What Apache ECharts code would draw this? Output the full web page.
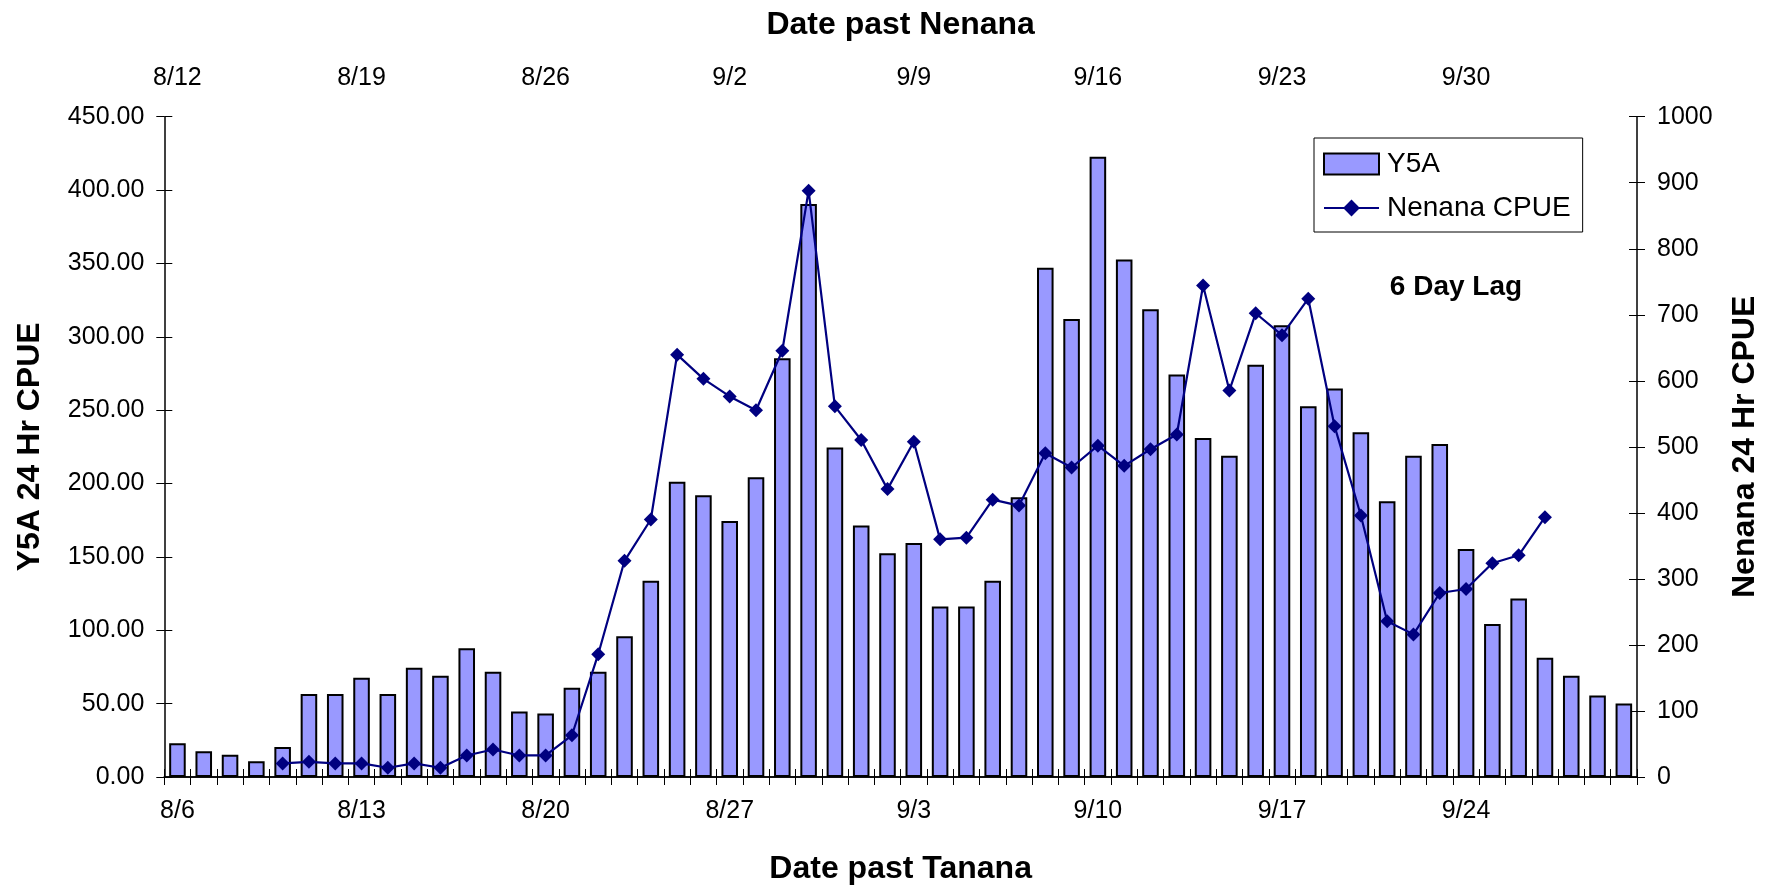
<!DOCTYPE html>
<html>
<head>
<meta charset="utf-8">
<script src="https://cdn.jsdelivr.net/npm/echarts@6/dist/echarts.min.js"></script>
<style>
html,body{margin:0;padding:0;background:#fff;}
#chart{width:1769px;height:890px;}
</style>
</head>
<body>
<div id="chart"></div>
<script>
// Date past Tanana (bottom axis categories)
const tananaDates = ['8/6','8/7','8/8','8/9','8/10','8/11','8/12','8/13','8/14','8/15','8/16','8/17','8/18','8/19','8/20','8/21','8/22','8/23','8/24','8/25','8/26','8/27','8/28','8/29','8/30','8/31','9/1','9/2','9/3','9/4','9/5','9/6','9/7','9/8','9/9','9/10','9/11','9/12','9/13','9/14','9/15','9/16','9/17','9/18','9/19','9/20','9/21','9/22','9/23','9/24','9/25','9/26','9/27','9/28','9/29','9/30'];
// Date past Nenana (top axis, 6 day lag)
const nenanaDates = ['8/12','8/13','8/14','8/15','8/16','8/17','8/18','8/19','8/20','8/21','8/22','8/23','8/24','8/25','8/26','8/27','8/28','8/29','8/30','8/31','9/1','9/2','9/3','9/4','9/5','9/6','9/7','9/8','9/9','9/10','9/11','9/12','9/13','9/14','9/15','9/16','9/17','9/18','9/19','9/20','9/21','9/22','9/23','9/24','9/25','9/26','9/27','9/28','9/29','9/30','10/1','10/2','10/3','10/4','10/5','10/6'];
// Y5A 24 Hr CPUE (bars, left axis)
const y5a = [23.0,17.6,15.1,10.8,20.5,56.6,56.6,67.7,56.6,74.4,69.0,87.8,71.7,44.7,43.3,60.9,71.7,95.9,133.8,201.2,192.0,174.4,204.2,285.4,390.5,224.5,171.4,152.5,159.5,116.2,116.2,133.8,190.6,347.1,312.2,422.7,352.6,318.7,274.3,231.0,219.0,281.0,307.9,252.6,264.8,235.0,187.9,219.0,226.9,155.4,104.2,121.6,81.2,69.0,55.5,50.1];
// Nenana 24 Hr CPUE (line, right axis)
const nenana = [null,null,null,null,20.6,23,20.6,20.6,14,20.6,14,32.6,41.6,32.6,32.6,63.2,186,327.4,390,639.6,603,576.4,555.4,645.6,888,561.4,510.3,436,507.8,359.9,362.4,420,411,490.2,468.7,501.8,471.2,496.3,518.8,744.4,585.5,702.3,669.2,724.4,531.3,396,236,216,278.7,284.7,323.8,335.8,393.5,null,null,null];
const leftTicks = {min: 0, max: 450, interval: 50};
const rightTicks = {min: 0, max: 1000, interval: 100};

const FONT = "'Liberation Sans', Arial, sans-serif";
const black = '#000';
const lineCol = '#000080';
const axisLine = {show: true, lineStyle: {color: black, width: 1.5}};
const tickStyle = {color: black, width: 1};
const labelStyle = {fontFamily: FONT, fontSize: 25, color: black};
const nameStyle = {fontFamily: FONT, fontSize: 32, fontWeight: 'bold', color: black};

const chart = echarts.init(document.getElementById('chart'), null, {renderer: 'canvas'});
chart.setOption({
  animation: false,
  backgroundColor: '#fff',
  grid: {left: 164.3, right: 124, top: 116.7, bottom: 109, containLabel: false},
  legend: {
    orient: 'vertical', left: 1314, top: 138,
    padding: [12, 12, 10, 9],
    borderColor: black, borderWidth: 1,
    itemWidth: 55, itemHeight: 21, itemGap: 16,
    textStyle: {fontFamily: FONT, fontSize: 28, color: black, lineHeight: 28, padding: [0, 0, 0, 3]},
    data: [{name: 'Y5A', icon: 'rect'}, {name: 'Nenana CPUE'}]
  },
  graphic: [{
    type: 'text', x: 1456, y: 287,
    style: {text: '6 Day Lag', font: 'bold 28px ' + FONT, fill: black, textAlign: 'center', textVerticalAlign: 'middle'}
  }],
  xAxis: [
    {type: 'category', data: tananaDates, position: 'bottom', boundaryGap: true,
     axisLine: axisLine, axisTick: {show: true, interval: 0, length: 8, lineStyle: tickStyle},
     axisLabel: Object.assign({interval: 6, margin: 22}, labelStyle),
     splitLine: {show: false},
     name: 'Date past Tanana', nameLocation: 'middle', nameGap: 76, nameTextStyle: nameStyle},
    {type: 'category', data: tananaDates, position: 'bottom', boundaryGap: true, z: 10,
     axisLine: {show: false}, axisTick: {show: true, inside: true, interval: 0, length: 8, lineStyle: tickStyle},
     axisLabel: {show: false}, splitLine: {show: false}},
    {type: 'category', data: nenanaDates, position: 'top', boundaryGap: true,
     axisLine: axisLine, axisTick: {show: true, interval: 0, length: 8, lineStyle: tickStyle},
     axisLabel: Object.assign({interval: 6, margin: 26}, labelStyle),
     splitLine: {show: false},
     name: 'Date past Nenana', nameLocation: 'middle', nameGap: 76, nameTextStyle: nameStyle},
    {type: 'category', data: nenanaDates, position: 'top', boundaryGap: true,
     axisLine: {show: false}, axisTick: {show: true, inside: true, interval: 0, length: 8, lineStyle: tickStyle},
     axisLabel: {show: false}, splitLine: {show: false}}
  ],
  yAxis: [
    {type: 'value', position: 'left', min: leftTicks.min, max: leftTicks.max, interval: leftTicks.interval,
     axisLine: axisLine, axisTick: {show: true, length: 8, lineStyle: tickStyle},
     axisLabel: Object.assign({margin: 20, formatter: v => v.toFixed(2)}, labelStyle),
     splitLine: {show: false},
     name: 'Y5A 24 Hr CPUE', nameLocation: 'middle', nameRotate: 90, nameGap: 118, nameTextStyle: nameStyle},
    {type: 'value', position: 'right', min: rightTicks.min, max: rightTicks.max, interval: rightTicks.interval,
     axisLine: axisLine, axisTick: {show: true, length: 8, lineStyle: tickStyle},
     axisLabel: Object.assign({margin: 20, formatter: v => String(v)}, labelStyle),
     splitLine: {show: false},
     name: 'Nenana 24 Hr CPUE', nameLocation: 'middle', nameRotate: 90, nameGap: 92, nameTextStyle: nameStyle},
    {type: 'value', position: 'left', min: leftTicks.min, max: leftTicks.max, interval: leftTicks.interval,
     axisLine: {show: false}, axisTick: {show: true, inside: true, length: 8, lineStyle: tickStyle},
     axisLabel: {show: false}, splitLine: {show: false}},
    {type: 'value', position: 'right', min: rightTicks.min, max: rightTicks.max, interval: rightTicks.interval,
     axisLine: {show: false}, axisTick: {show: true, inside: true, length: 8, lineStyle: tickStyle},
     axisLabel: {show: false}, splitLine: {show: false}}
  ],
  series: [
    {name: 'Y5A', type: 'bar', xAxisIndex: 0, yAxisIndex: 0, data: y5a,
     barCategoryGap: '37%',
     itemStyle: {color: '#9999FF', borderColor: black, borderWidth: 2}},
    {name: 'Nenana CPUE', type: 'line', xAxisIndex: 0, yAxisIndex: 1, data: nenana,
     symbol: 'diamond', symbolSize: 14, showAllSymbol: true, connectNulls: false,
     lineStyle: {color: lineCol, width: 2.2}, itemStyle: {color: lineCol}}
  ]
});
</script>
</body>
</html>
